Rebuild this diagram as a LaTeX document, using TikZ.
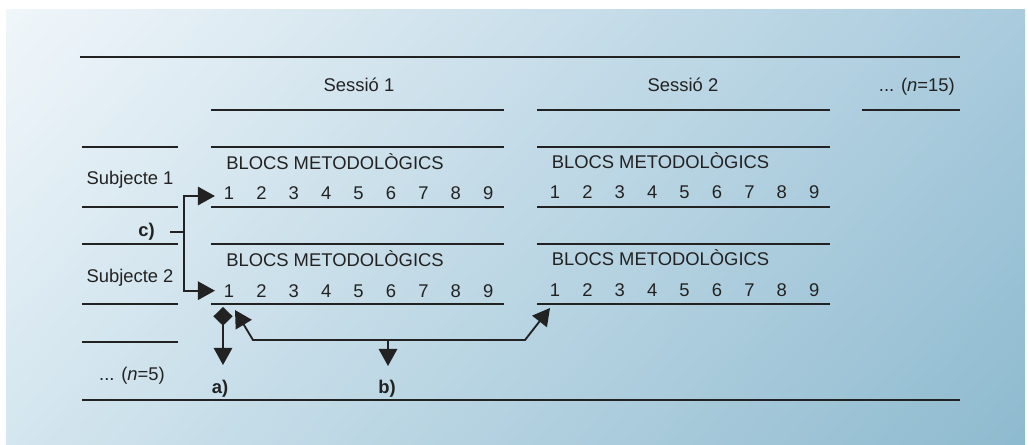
\documentclass[tikz,border=0pt]{standalone}
\usepackage{fontspec}
\setmainfont{Liberation Sans}
\usetikzlibrary{arrows.meta,shadings}
\definecolor{bgTL}{HTML}{F0F6FA}
\definecolor{bgTR}{HTML}{A9CBDD}
\definecolor{bgBL}{HTML}{D4E6EF}
\definecolor{bgBR}{HTML}{8EBACF}
\definecolor{ink}{HTML}{222222}
\begin{document}
\begin{tikzpicture}[x=0.75pt,y=-0.75pt,
  rule/.style={draw=ink, line width=1.1pt},
  txt/.style={inner sep=0pt, text=ink, font=\fontsize{13.8}{16}\selectfont},
  lbl/.style={inner sep=0pt, text=ink, font=\fontsize{13.8}{16}\selectfont\bfseries},
  conn/.style={draw=ink, line width=1.4pt},
  arr/.style={conn, -{Triangle[length=12.8pt,width=13.8pt]}},
  ]
\fill[white] (0,0) rectangle (1027,444);
\useasboundingbox (0,0) rectangle (1027,444);
\shade[upper left=bgTL, upper right=bgTR, lower left=bgBL, lower right=bgBR] (6,9) rectangle (1025,444);

% rules
\draw[rule] (80,57) -- (960,57);
\draw[rule] (82,400) -- (960,400);
\draw[rule] (211,110) -- (504,110);
\draw[rule] (537,110) -- (830,110);
\draw[rule] (862,110) -- (960,110);
\foreach \y in {147,207,244,304}{
  \draw[rule] (82,\y) -- (178,\y);
  \draw[rule] (211,\y) -- (504,\y);
  \draw[rule] (537,\y) -- (830,\y);
}
\draw[rule] (82,342) -- (178,342);

% headings
\node[txt, anchor=base] (ses1) at (359,91) {Sessió 1};
\node[txt, anchor=base] (ses2) at (683,91) {Sessió 2};
\node[txt, anchor=base east] (sesn) at (955,91) {... (\textit{n}=15)};

% subjects
\node[txt, anchor=base] (sub1) at (130,184) {Subjecte 1};
\node[txt, anchor=base] (sub2) at (130,282) {Subjecte 2};
\node[txt, anchor=base] (subn) at (132,380) {... (\textit{n}=5)};

% blocs
\node[txt, anchor=base west] (b11) at (226,169) {BLOCS METODOLÒGICS};
\node[txt, anchor=base west] (b12) at (551.5,168) {BLOCS METODOLÒGICS};
\node[txt, anchor=base west] (b21) at (226,266.5) {BLOCS METODOLÒGICS};
\node[txt, anchor=base west] (b22) at (551.5,265.5) {BLOCS METODOLÒGICS};

% digits
\foreach \i in {1,...,9}{
  \node[txt, anchor=base] (d11-\i) at ({229+(\i-1)*32.4},199) {\i};
  \node[txt, anchor=base] (d12-\i) at ({555+(\i-1)*32.4},198.5) {\i};
  \node[txt, anchor=base] (d21-\i) at ({229+(\i-1)*32.4},297) {\i};
  \node[txt, anchor=base] (d22-\i) at ({555+(\i-1)*32.4},296.5) {\i};
}

% labels
\node[lbl, anchor=base east] (lc) at (155,236.7) {c)};
\node[lbl, anchor=base] (la) at (220,393) {a)};
\node[lbl, anchor=base] (lb) at (387,393) {b)};

% c) connector
\coordinate (cj) at (184,232);
\draw[conn] (lc.east) ++(15,0) -- (cj);
\draw[arr, shorten >=6.5pt] (cj) |- ([yshift=-2.5pt]d11-1.west);
\draw[arr, shorten >=6.5pt] (cj) |- (d21-1.west);

% a) connector
\coordinate (aS) at (223,307);
\coordinate (aE) at (223,365);
\draw[conn, {Diamond[length=14pt,width=14.5pt]}-{Triangle[length=12.8pt,width=13.8pt]}] (aS) -- (aE);

% b) connector
\coordinate (bT1) at (235,310);
\coordinate (bL) at (253,340);
\coordinate (bR) at (525,340);
\coordinate (bT2) at (550,308);
\coordinate (bM) at (388,340);
\coordinate (bE) at (388,366);
\draw[conn, line join=miter, {Triangle[length=12.8pt,width=13.8pt]}-{Triangle[length=12.8pt,width=13.8pt]}] (bT1) -- (bL) -- (bR) -- (bT2);
\draw[arr] (bM) -- (bE);
\end{tikzpicture}
\end{document}
